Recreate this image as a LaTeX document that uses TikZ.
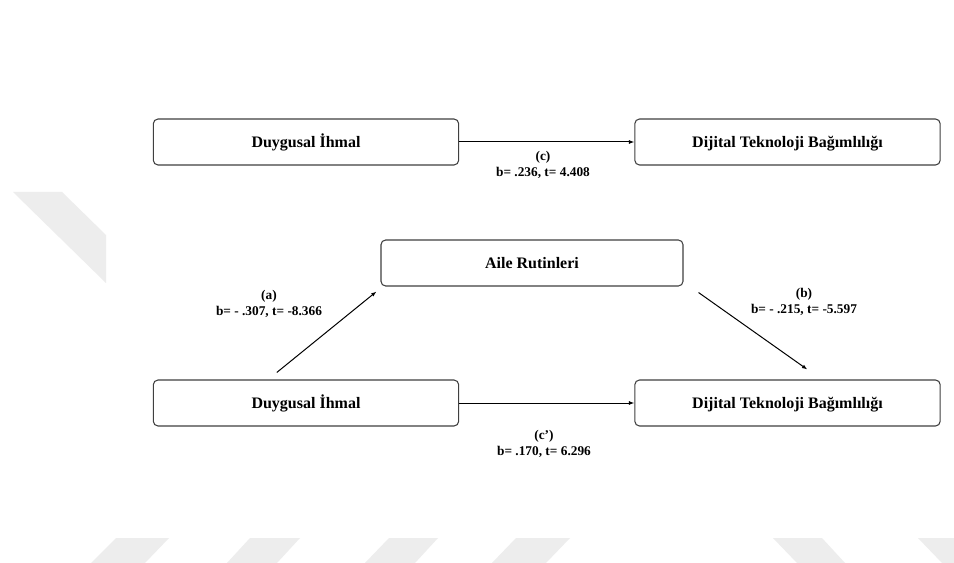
\documentclass[tikz,border=0pt]{standalone}
\usepackage{fontspec}
\setmainfont{Liberation Serif}
\usetikzlibrary{arrows.meta,calc}
\begin{document}
\begin{tikzpicture}[x=0.75pt,y=-0.75pt,
  box/.style={draw=black!75,line width=0.8pt,rounded corners=3.5pt,
    minimum width=229pt,minimum height=34.5pt,inner sep=0pt,
    text height=10pt,text depth=1.5pt,
    font=\bfseries\fontsize{12}{14}\selectfont},
  lab/.style={align=center,inner sep=0pt,font=\bfseries\fontsize{10}{12}\selectfont},
  conn/.style={line width=0.75pt,-{Latex[length=4pt,width=3pt]}},
  wm/.style={fill=black!7,draw=none}]
\useasboundingbox[fill=white] (0,0) rectangle (954,563);
% watermark shapes
\fill[wm] (13,192) -- (62,192) -- (106,235) -- (106,283) -- cycle;
\fill[wm] (116,538) -- (169,538) -- (145,563) -- (91,563) -- cycle;
\fill[wm] (250,538) -- (300,538) -- (277,563) -- (227,563) -- cycle;
\fill[wm] (389,538) -- (438,538) -- (415,563) -- (365,563) -- cycle;
\fill[wm] (516,538) -- (570,538) -- (546,563) -- (492,563) -- cycle;
\fill[wm] (773,538) -- (822,538) -- (845,563) -- (797,563) -- cycle;
\fill[wm] (918,538) -- (954,538) -- (954,563) -- (942,563) -- cycle;
% boxes
\node[box] (tl) at (306,142) {Duygusal İhmal};
\node[box] (tr) at (787.5,142) {Dijital Teknoloji Bağımlılığı};
\node[box,minimum width=226.5pt] (ar) at (532,263) {Aile Rutinleri};
\node[box] (dl) at (306,403) {Duygusal İhmal};
\node[box] (dr) at (787.5,403) {Dijital Teknoloji Bağımlılığı};
% connectors
\draw[conn] (tl.east) -- (tr.west);
\draw[conn] (dl.east) -- (dr.west);
\coordinate (a1) at ($(dl.north west)+(124,-7)$);
\coordinate (a2) at ($(ar.south west)+(-4,5)$);
\coordinate (b1) at ($(ar.south east)+(15,6)$);
\coordinate (b2) at ($(dr.north west)+(173,-10)$);
\draw[conn] (a1) -- (a2);
\draw[conn] (b1) -- (b2);
% labels
\node[lab] (lc) at (543,165) {(c)\\b= .236, t= 4.408};
\node[lab] (la) at (269,304) {(a)\\b= - .307, t= -8.366};
\node[lab] (lb) at (804,302) {(b)\\b= - .215, t= -5.597};
\node[lab] (lcp) at (544,444) {(c’)\\b= .170, t= 6.296};
\end{tikzpicture}
\end{document}
